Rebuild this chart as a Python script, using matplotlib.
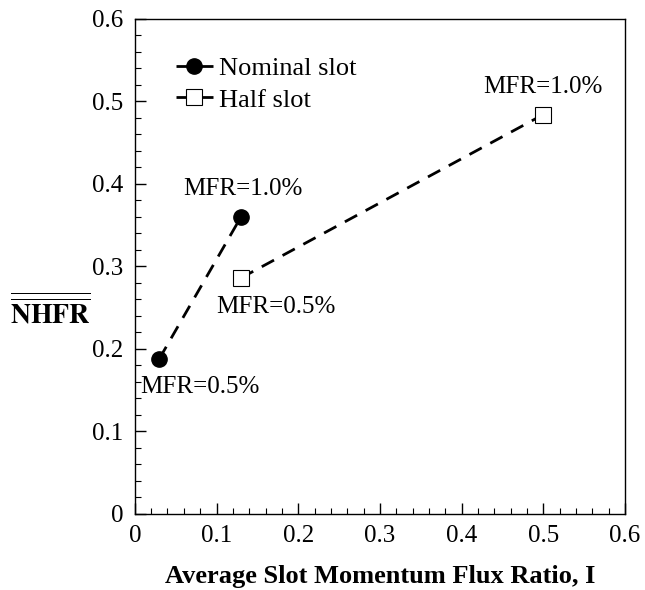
import numpy as np
import matplotlib.pyplot as plt
from matplotlib.ticker import MultipleLocator

plt.rcParams['font.family'] = ['Liberation Serif', 'DejaVu Serif']
plt.rcParams['mathtext.fontset'] = 'stix'

# momentum flux ratio vs. area-averaged NHFR
nominal_I = [0.03, 0.13]
nominal_nhfr = [0.188, 0.360]
half_I = [0.13, 0.50]
half_nhfr = [0.286, 0.484]

labels = ['MFR=0.5%', 'MFR=1.0%', 'MFR=0.5%', 'MFR=1.0%']
label_x = [0.080, 0.132, 0.173, 0.500]
label_y = [0.154, 0.394, 0.251, 0.518]

ticks = [0, 0.1, 0.2, 0.3, 0.4, 0.5, 0.6]
tick_labels = ['0', '0.1', '0.2', '0.3', '0.4', '0.5', '0.6']

fig = plt.figure(figsize=(6.45, 5.9), dpi=100)
ax = fig.add_axes([0.209, 0.129, 0.760, 0.839])

ax.plot(nominal_I, nominal_nhfr, 'k--', marker='o', ms=11, mfc='k', mec='k',
        lw=2, dashes=(5, 3.5), label='Nominal slot')
ax.plot(half_I, half_nhfr, 'k--', marker='s', ms=11, mfc='white', mec='k', mew=0.8,
        lw=2, dashes=(5, 3.5), label='Half slot')

for t, x, y in zip(labels, label_x, label_y):
    ax.text(x, y, t, ha='center', va='center', fontsize=18)

ax.set_xlim(0, 0.6)
ax.set_ylim(0, 0.6)
ax.set_xticks(ticks)
ax.set_xticklabels(tick_labels)
ax.set_yticks(ticks)
ax.set_yticklabels(tick_labels)
ax.xaxis.set_minor_locator(MultipleLocator(0.02))
ax.yaxis.set_minor_locator(MultipleLocator(0.02))
ax.tick_params(which='major', direction='in', length=8, width=1, labelsize=18, pad=8)
ax.tick_params(which='minor', direction='in', length=4, width=0.8)
for s in ax.spines.values():
    s.set_linewidth(1)

ax.set_xlabel('Average Slot Momentum Flux Ratio, I', fontsize=19, fontweight='bold', labelpad=13)
fig.text(0.078, 0.471, r'$\overline{\overline{\mathbf{NHFR}}}$', fontsize=20,
         ha='center', va='center')

ax.legend(loc='upper left', bbox_to_anchor=(0.062, 0.945), frameon=False, fontsize=19,
          handlelength=1.4, handletextpad=0.25, labelspacing=0.3, borderaxespad=0)

fig.savefig('out.png', dpi=100)
